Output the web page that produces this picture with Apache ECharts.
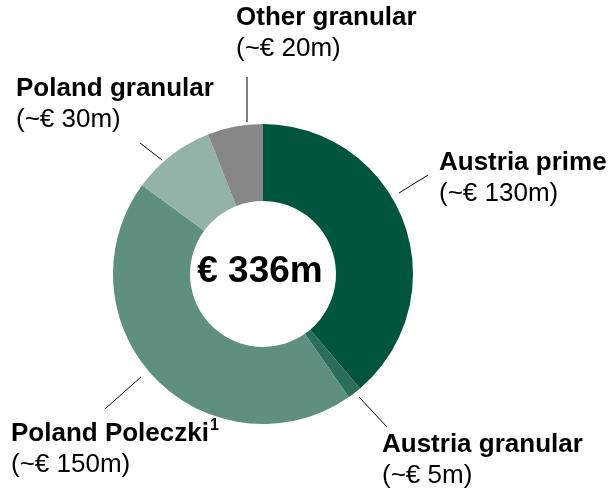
<!DOCTYPE html>
<html>
<head>
<meta charset="utf-8">
<script src="https://cdn.jsdelivr.net/npm/echarts@6/dist/echarts.min.js"></script>
<style>
  html, body { margin: 0; padding: 0; background: #fff; }
  #chart { width: 613px; height: 492px; }
</style>
</head>
<body>
<div id="chart"></div>
<script>
// data
const categories = ["Austria prime", "Austria granular", "Poland Poleczki", "Poland granular", "Other granular"];
const footnotes = ["", "", "1", "", ""];
const values = [130, 5, 150, 30, 20];
const valueLabels = ["(~€ 130m)", "(~€ 5m)", "(~€ 150m)", "(~€ 30m)", "(~€ 20m)"];
const totalLabel = "€ 336m";

// styles
const colors = ["#00553f", "#2a6e5a", "#5f8f7e", "#94b3a7", "#878787"];
const font = "'Liberation Sans', Arial, sans-serif";

// label anchors (left, top) and leader lines, per slice
const labelPos = [
  [439, 147],
  [382, 429],
  [11, 418],
  [16, 73],
  [236, 2]
];
const leaderLines = [
  [[399, 193], [428, 175]],
  [[359, 397], [387, 427]],
  [[141, 377], [105, 409]],
  [[162, 160], [140, 143]],
  [[247, 122], [247, 77]]
];

const el = document.getElementById("chart");
const chart = echarts.init(el);

chart.setOption({
  animation: false,
  series: [
    {
      type: "pie",
      center: [263, 274],
      radius: [73, 150],
      startAngle: 90,
      clockwise: true,
      silent: true,
      data: categories.map((name, i) => ({
        name: name,
        value: values[i],
        itemStyle: { color: colors[i] }
      })),
      label: {
        show: true,
        overflow: "none",
        formatter: p => {
          const i = p.dataIndex;
          const sup = footnotes[i] ? `{s|${footnotes[i]}}` : "";
          return `{b|${p.name}}${sup}\n{v|${valueLabels[i]}}`;
        },
        rich: {
          b: { fontFamily: font, fontSize: 26, fontWeight: "bold", color: "#000", lineHeight: 31 },
          s: { fontFamily: font, fontSize: 16, fontWeight: "bold", color: "#000", lineHeight: 22, verticalAlign: "top", padding: [0, 0, 0, 1] },
          v: { fontFamily: font, fontSize: 26, color: "#000", lineHeight: 31 }
        }
      },
      labelLine: {
        show: true,
        lineStyle: { color: "#000", width: 1 }
      },
      labelLayout: p => {
        const i = p.dataIndex;
        const ln = leaderLines[i];
        return {
          x: labelPos[i][0],
          y: labelPos[i][1],
          width: 300,
          align: "left",
          verticalAlign: "top",
          labelLinePoints: [ln[0], ln[1], ln[1]]
        };
      }
    }
  ],
  graphic: [
    {
      type: "text",
      x: 260,
      y: 272,
      style: {
        text: totalLabel,
        fontFamily: font,
        fontSize: 37,
        fontWeight: "bold",
        fill: "#000",
        align: "center",
        verticalAlign: "middle"
      }
    }
  ]
});
</script>
</body>
</html>
